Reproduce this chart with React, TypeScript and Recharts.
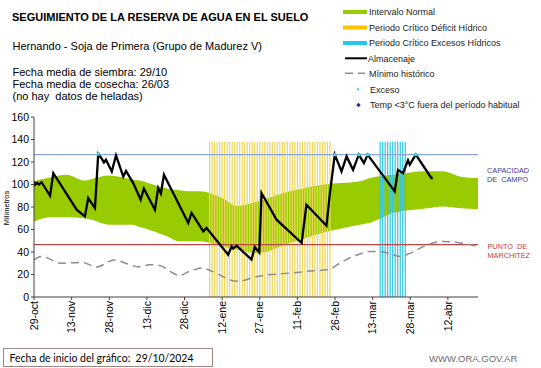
import React from "react";
import {
  ComposedChart,
  Area,
  Line,
  Bar,
  Scatter,
  XAxis,
  YAxis,
  ReferenceLine,
} from "recharts";

// ---- axis ticks ----
const xTickDays = [0, 15, 30, 45, 60, 75, 90, 105, 120, 135, 150, 165];
const xTickLabels = ["29-oct", "13-nov", "28-nov", "13-dic", "28-dic", "12-ene", "27-ene", "11-feb", "26-feb", "13-mar", "28-mar", "12-abr"];
const yTicks = [0, 20, 40, 60, 80, 100, 120, 140, 160];

// ---- reference levels ----
const capacidadCampo = 126.5;
const puntoMarchitez = 46.5;
const periodoTop = 138;

// ---- Intervalo normal (green band) ----
const normalDays = [0, 6, 13, 20, 23, 30, 39, 42, 46, 53, 58, 62, 66, 75, 81, 89, 102, 115, 130, 134, 143, 157, 163, 170, 177];
const normalLow = [67, 71, 71, 70, 68.7, 64.3, 64.3, 62.5, 59.8, 54, 49.5, 49.5, 49.5, 45, 42, 39, 48, 57, 64.3, 66, 74.6, 79, 80.5, 79, 78];
const normalHigh = [103, 106, 108.7, 103.6, 105, 108, 104.5, 103.6, 101, 96.5, 95, 93.9, 94, 88, 81, 85, 93.9, 99.8, 102.8, 105.8, 108.7, 111.7, 111.7, 107, 105.8];

// ---- Mínimo histórico ----
const minDays = [0, 3, 11, 19, 25, 32, 37, 42, 46, 50, 58, 62, 67, 71, 81, 89, 102, 109, 118, 122, 129, 134, 138, 143, 146, 150, 157, 163, 170, 177];
const minValues = [33, 36, 30, 30.8, 26.7, 33, 29.6, 26.7, 28.7, 28, 19.2, 22.8, 25.8, 22.8, 13.9, 18.3, 21.3, 22.8, 24.9, 30.2, 37.6, 40.5, 40.5, 37.6, 36, 39, 46.5, 49.4, 48, 45];

// ---- Almacenaje ----
const almDays = [0, 0.4, 1.3, 2, 3, 6.4, 7.7, 17, 20.3, 21.6, 24.3, 25.6, 27, 27.9, 28.7, 31, 32.7, 35.6, 36.7, 39.6, 42.5, 43.8, 48.2, 49.5, 50.6, 51.8, 61.5, 62.8, 67.5, 68.8, 77.4, 78.8, 79.4, 80.8, 86.7, 88, 89.8, 90.7, 96.7, 106.7, 108.6, 116.6, 117.9, 119.9, 122.6, 124.6, 127.2, 129.5, 131.5, 133, 143.8, 145.1, 147.1, 149.1, 149.8, 152.2, 158.4, 159];
const almValues = [102.8, 99.8, 101.5, 100, 102, 90, 110, 77.6, 71.6, 88, 79, 127, 123, 119.6, 122, 111.6, 125.9, 107, 112, 101, 86.5, 96.3, 77.6, 96.9, 92, 108.7, 65.8, 74.7, 58.3, 61.3, 37.6, 45, 43, 45.6, 33.2, 44.4, 39.6, 92.4, 68.7, 48, 82, 63.4, 91, 126.5, 111.6, 125, 113, 126.5, 119, 126.5, 93.9, 113, 110, 121.5, 117.6, 126.5, 105.8, 105.8];

// ---- Exceso ----
const excesoDays = [25.6, 119.9, 129.5, 133, 152.2];
const excesoValues = [127, 126.5, 126.5, 126.5, 126.5];

// ---- Periodos críticos (one stripe per day) ----
const deficitDays = [70, 71, 72, 73, 74, 75, 76, 77, 78, 79, 80, 81, 82, 83, 84, 85, 86, 87, 88, 89, 90, 91, 92, 93, 94, 95, 96, 97, 98, 99, 100, 101, 102, 103, 104, 105, 106, 107, 108, 109, 110, 111, 112, 113, 114, 115, 116, 117, 118];
const excesosDays = [138, 139, 140, 141, 142, 143, 144, 145, 146, 147, 148];

const normalData = normalDays.map((d, i) => ({ day: d, range: [normalLow[i], normalHigh[i]] }));
const minData = minDays.map((d, i) => ({ day: d, v: minValues[i] }));
const almData = almDays.map((d, i) => ({ day: d, v: almValues[i] }));
const excesoData = excesoDays.map((d, i) => ({ day: d, v: excesoValues[i] }));
const bandData = [
  ...deficitDays.map((d) => ({ day: d, band: periodoTop, kind: "d" })),
  ...excesosDays.map((d) => ({ day: d, band: periodoTop, kind: "e" })),
];

const FONT = "'Liberation Sans', Arial, sans-serif";

const Stripe = (props: any) => {
  const { x, y, width, height, payload } = props;
  if (height == null || height <= 0) return null;
  const isD = payload && payload.kind === "d";
  return (
    <g>
      <rect x={x} y={y} width={width} height={height} fill={isD ? "#f8eaa0" : "#b4eaf6"} fillOpacity={0.5} />
      <rect x={x + width / 2 - 0.6} y={y} width={1.2} height={height} fill={isD ? "#ecd65c" : "#30c4e6"} />
    </g>
  );
};

const XTick = (props: any) => {
  const { x, y, payload } = props;
  const idx = xTickDays.indexOf(payload.value);
  const label = idx >= 0 ? xTickLabels[idx] : "";
  return (
    <text x={x} y={y} transform={`rotate(-90, ${x}, ${y})`} textAnchor="end" dy="0.35em" fontSize={10.5} fill="#000" fontFamily={FONT}>
      {label}
    </text>
  );
};

const ExcesoDot = (props: any) => {
  const { cx, cy } = props;
  if (cx == null || cy == null) return null;
  return <rect x={cx - 1.6} y={cy - 1.6} width={3.2} height={3.2} fill="#36d0f4" />;
};

export default function App() {
  return (
    <div style={{ position: "absolute", left: 0, top: 0, width: 541, height: 368, background: "#fff", fontFamily: FONT }}>
      <ComposedChart
        width={541}
        height={368}
        data={bandData}
        margin={{ top: 117, right: 63, bottom: 21, left: 0 }}
        style={{ position: "absolute", left: 0, top: 0 }}
      >
        <XAxis
          dataKey="day"
          type="number"
          domain={[0, 177]}
          ticks={xTickDays}
          interval={0}
          height={50}
          tickSize={3}
          tickMargin={1}
          tick={<XTick />}
          stroke="#404040"
          allowDataOverflow
        />
        <YAxis
          type="number"
          domain={[0, 160]}
          ticks={yTicks}
          interval={0}
          width={34}
          tickSize={3}
          tickMargin={2}
          tick={{ fontSize: 10.5, fill: "#000", fontFamily: FONT }}
          stroke="#404040"
          allowDataOverflow
        />
        <Area
          data={normalData}
          dataKey="range"
          type="monotone"
          fill="#99cc00"
          fillOpacity={1}
          stroke="none"
          isAnimationActive={false}
          dot={false}
          activeDot={false}
        />
        <Bar dataKey="band" barSize={2.5} shape={<Stripe />} isAnimationActive={false} />
        <ReferenceLine y={capacidadCampo} stroke="#8aa6d8" strokeWidth={1.3} />
        <ReferenceLine y={puntoMarchitez} stroke="#b84848" strokeWidth={1.2} />
        <Line
          data={minData}
          dataKey="v"
          type="monotone"
          stroke="#8c8c8c"
          strokeWidth={1.5}
          strokeDasharray="8 5"
          dot={false}
          activeDot={false}
          isAnimationActive={false}
        />
        <Line
          data={almData}
          dataKey="v"
          type="linear"
          stroke="#000"
          strokeWidth={2.3}
          dot={false}
          activeDot={false}
          isAnimationActive={false}
        />
        <Scatter data={excesoData} dataKey="v" shape={<ExcesoDot />} isAnimationActive={false} />
      </ComposedChart>

      <svg width={541} height={368} style={{ position: "absolute", left: 0, top: 0, pointerEvents: "none" }} fontFamily={FONT}>
        {/* titles */}
        <text x={12} y={20.5} fontSize={11} fontWeight="bold" fill="#000">SEGUIMIENTO DE LA RESERVA DE AGUA EN EL SUELO</text>
        <text x={12.5} y={50} fontSize={11} fill="#000">Hernando - Soja de Primera (Grupo de Madurez V)</text>
        <text x={12.5} y={75.5} fontSize={11} fill="#000">Fecha media de siembra: 29/10</text>
        <text x={12.5} y={87.5} fontSize={11} fill="#000">Fecha media de cosecha: 26/03</text>
        <text x={12.5} y={99.5} fontSize={11} fill="#000" style={{ whiteSpace: "pre" }}>(no hay  datos de heladas)</text>

        {/* legend */}
        <rect x={343} y={10} width={24} height={4} fill="#99cc00" />
        <text x={369} y={15} fontSize={9} fill="#222">Intervalo Normal</text>
        <rect x={343} y={25.5} width={24} height={4} fill="#fcc200" />
        <text x={369} y={30.5} fontSize={9} fill="#222">Periodo Crítico Déficit Hídrico</text>
        <rect x={343} y={41} width={24} height={4} fill="#22c6ee" />
        <text x={369} y={46} fontSize={9} fill="#222">Periodo Crítico Excesos Hídricos</text>
        <line x1={345} x2={367} y1={58.3} y2={58.3} stroke="#000" strokeWidth={2} />
        <text x={368} y={61.5} fontSize={9} fill="#222">Almacenaje</text>
        <line x1={345} x2={353} y1={73.3} y2={73.3} stroke="#8c8c8c" strokeWidth={1.5} />
        <line x1={358} x2={365} y1={73.3} y2={73.3} stroke="#8c8c8c" strokeWidth={1.5} />
        <text x={369} y={76.5} fontSize={9} fill="#222">Mínimo histórico</text>
        <rect x={357} y={88.3} width={2.2} height={2.2} fill="#36d0f4" />
        <text x={370} y={92.5} fontSize={9} fill="#222">Exceso</text>
        <path d="M358.5 102.8 L360.7 105 L358.5 107.2 L356.3 105 Z" fill="#1f2fa0" />
        <text x={370} y={108} fontSize={9} fill="#222">Temp &lt;3°C fuera del período habitual</text>

        {/* axis title */}
        <text x={8.5} y={208} transform="rotate(-90, 8.5, 208)" textAnchor="middle" fontSize={7.5} fill="#000">Milímetros</text>

        {/* right labels */}
        <text x={487} y={172.7} fontSize={7.3} fill="#3a3aa8">CAPACIDAD</text>
        <text x={487} y={181.7} fontSize={7.3} fill="#3a3aa8" style={{ whiteSpace: "pre" }}>DE  CAMPO</text>
        <text x={487.5} y={249.3} fontSize={7.3} fill="#c83c3c" style={{ whiteSpace: "pre" }}>PUNTO  DE</text>
        <text x={487.5} y={257.8} fontSize={7.3} fill="#c83c3c">MARCHITEZ</text>

        {/* bottom */}
        <rect x={3.5} y={348.5} width={209} height={18} fill="#fff" stroke="#9b8585" strokeWidth={1} />
        <text x={9.5} y={361.5} fontSize={11} fill="#000" fontFamily="Lato, 'Liberation Sans', sans-serif" textLength={184} lengthAdjust="spacingAndGlyphs" style={{ whiteSpace: "pre" }}>Fecha de inicio del gráfico:  29/10/2024</text>
        <text x={429} y={362} fontSize={9.5} fill="#6d6d6d">WWW.ORA.GOV.AR</text>
      </svg>
    </div>
  );
}
